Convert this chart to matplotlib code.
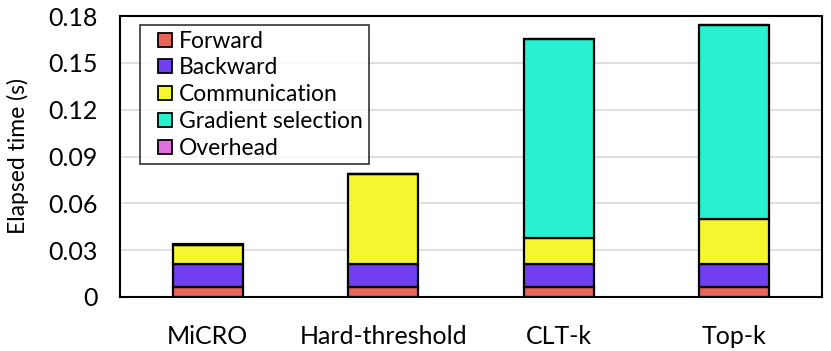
import matplotlib.pyplot as plt
from matplotlib.lines import Line2D
import numpy as np

plt.rcParams['font.family'] = ['Lato', 'DejaVu Sans']

# Elapsed time per component (s)
methods = ['MiCRO', 'Hard-threshold', 'CLT-k', 'Top-k']
forward = [0.0065, 0.0065, 0.0065, 0.0065]
backward = [0.0145, 0.0145, 0.0145, 0.0145]
communication = [0.0125, 0.0575, 0.017, 0.029]
gradient_selection = [0.0, 0.0, 0.127, 0.124]
overhead = [0.0003, 0.0005, 0.0, 0.0]

labels = ['Forward', 'Backward', 'Communication', 'Gradient selection', 'Overhead']
colors = ['#E8655A', '#7040F0', '#F5F530', '#28F0D0', '#E070E0']
series = [forward, backward, communication, gradient_selection, overhead]

fig = plt.figure(figsize=(8.31, 3.51), dpi=100)
ax = fig.add_axes([120 / 831, 54 / 351, 702 / 831, 281 / 351])

x = np.arange(len(methods))
bottom = np.zeros(len(methods))
for vals, lab, col in zip(series, labels, colors):
    ax.bar(x, vals, 0.4, bottom=bottom, color=col, edgecolor='black',
           linewidth=1.6, label=lab, zorder=3)
    bottom += np.array(vals)

ax.set_xlim(-0.5, 3.5)
ax.set_ylim(0, 0.18)
ax.set_yticks([0, 0.03, 0.06, 0.09, 0.12, 0.15, 0.18])
ax.set_yticklabels(['0', '0.03', '0.06', '0.09', '0.12', '0.15', '0.18'])
ax.set_xticks(x)
ax.set_xticklabels(methods)
ax.tick_params(axis='both', length=0, labelsize=18)
ax.tick_params(axis='y', pad=16)
ax.tick_params(axis='x', pad=20)
ax.set_ylabel('Elapsed time (s)', fontsize=16.5)
ax.yaxis.set_label_coords(-0.130, 0.5)
ax.yaxis.grid(True, color='#D9D9D9', linewidth=1.2, zorder=0)
for s in ax.spines.values():
    s.set_linewidth(1.5)

# square legend handles with some room on the left
handles = [Line2D([], [], linestyle='none', marker='s', markersize=10,
                  markerfacecolor=c, markeredgecolor='black', markeredgewidth=1.3)
           for c in colors]
leg = ax.legend(handles, labels, loc='upper left',
                bbox_to_anchor=(20 / 702, 1 - 9 / 281),
                fontsize=16.5, frameon=True, fancybox=False, edgecolor='black',
                handlelength=1.7, handletextpad=-0.25,
                labelspacing=0.25, borderpad=0.25, borderaxespad=0)
leg.get_frame().set_linewidth(1.2)

fig.savefig('out.png', dpi=100)
